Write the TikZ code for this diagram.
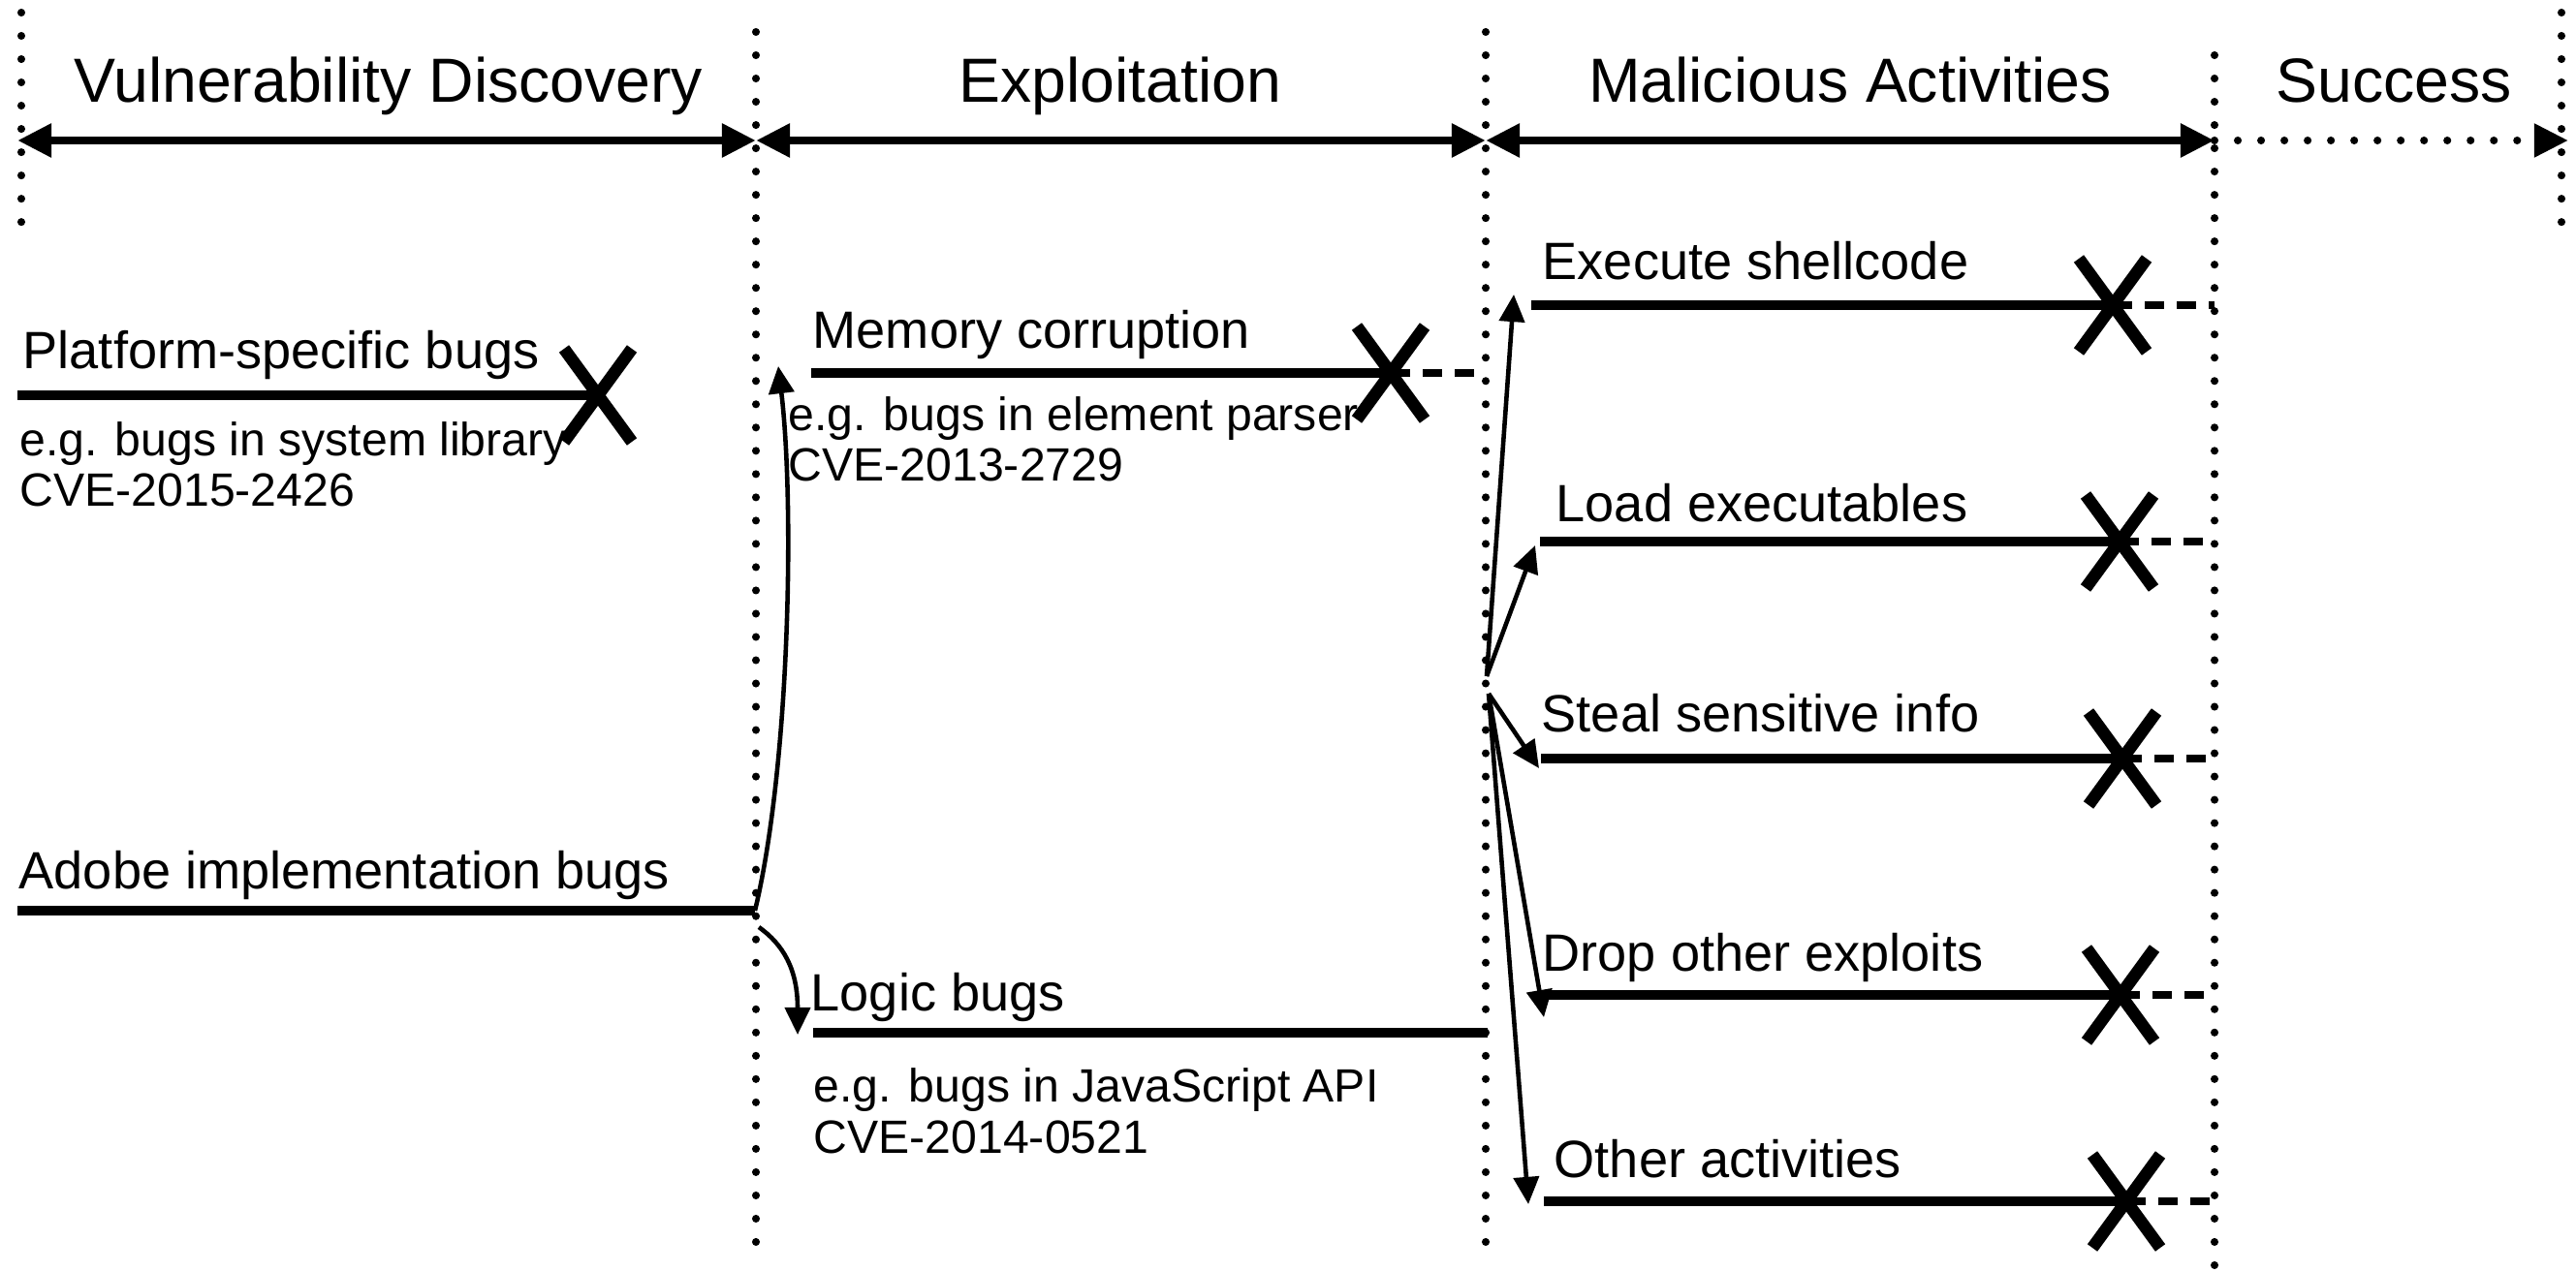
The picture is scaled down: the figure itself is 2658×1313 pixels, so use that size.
\documentclass[tikz,border=0pt]{standalone}
\usepackage{fontspec}
\setmainfont{Liberation Sans}
\usetikzlibrary{arrows.meta}
\begin{document}
\begin{tikzpicture}[x=0.01cm,y=-0.01cm,
 hdr/.style={font=\fontsize{18.3}{22}\selectfont, inner sep=0pt, anchor=base},
 lbl/.style={font=\fontsize{15.4}{18}\selectfont, inner sep=0pt, anchor=base west},
 sub/.style={font=\fontsize{13.7}{16}\selectfont, inner sep=0pt, anchor=base west},
 vdots/.style={line width=2.3pt, line cap=round, dash pattern=on 0pt off 6.83pt},
 phase/.style={line width=2.5pt, {Triangle[length=10pt,width=9.4pt]}-{Triangle[length=10pt,width=9.4pt]}},
 phaseopen/.style={line width=2.3pt, line cap=round, dash pattern=on 0pt off 6.83pt, -{Triangle[length=10pt,width=9.4pt]}},
 bar/.style={line width=2.9pt},
 fail/.style={line width=2pt, dash pattern=on 5.7pt off 3.7pt},
 flow/.style={line width=1.3pt, -{Triangle[length=8pt,width=7.4pt]}},
 xstroke/.style={line width=3.6pt},
 crossx/.pic={\draw[xstroke] (-35,-48) -- (35,48); \draw[xstroke] (-35,48) -- (35,-48);}
]
\useasboundingbox (0,0) rectangle (2658,1313);

% phase separators
\draw[vdots] (22,13) -- (22,253);
\draw[vdots] (780,33) -- (780,1283);
\draw[vdots] (1533,33) -- (1533,1295);
\draw[vdots] (2285,57) -- (2285,1313);
\draw[vdots] (2643,13) -- (2643,253);

% phase arrows
\coordinate (h0) at (18,145);
\coordinate (h1) at (780,145);
\coordinate (h2) at (1533,145);
\coordinate (h3) at (2285,145);
\coordinate (h4) at (2650,145);
\draw[phase] (h0) -- (h1);
\draw[phase] (h1) -- (h2);
\draw[phase] (h2) -- (h3);
\draw[phaseopen] (h3) -- (h4);

\node[hdr] (tVD) at (401,106) {Vulnerability Discovery};
\node[hdr] (tEX) at (1156,106) {Exploitation};
\node[hdr] (tMA) at (1909,106) {Malicious Activities};
\node[hdr] (tSU) at (2470,106) {Success};

% Vulnerability discovery
\node[lbl] (plat) at (23,381) {Platform-specific bugs};
\coordinate (platS) at (18,408);
\coordinate (platX) at (617,408);
\draw[bar] (platS) -- (platX);
\pic at (platX) {crossx};
\node[sub] (platEg) at (20,471) {e.g. bugs in system library};
\node[sub] (platCve) at (20,523) {CVE-2015-2426};

\node[lbl] (adobe) at (19,917) {Adobe implementation bugs};
\coordinate (adS) at (18,940);
\coordinate (adE) at (779,940);
\draw[bar] (adS) -- (adE);

% Exploitation
\node[lbl] (mem) at (838,360) {Memory corruption};
\coordinate (memS) at (837,385);
\coordinate (memX) at (1435,385);
\coordinate (memF) at (1533,385);
\draw[bar] (memS) -- (memX);
\draw[fail] (memX) -- (memF);
\pic at (memX) {crossx};
\node[sub] (memEg) at (813,445) {e.g. bugs in element parser};
\node[sub] (memCve) at (813,497) {CVE-2013-2729};
\coordinate (memTip) at (803,378);
\draw[flow] (adE) .. controls (815,790) and (820,520) .. (memTip);

\coordinate (logS) at (783,957);
\coordinate (logTip) at (823,1068);
\draw[flow] (logS) .. controls (808,975) and (823,1000) .. (logTip);
\node[lbl] (logic) at (836,1043) {Logic bugs};
\coordinate (logL) at (839,1066);
\coordinate (logR) at (1535,1066);
\draw[bar] (logL) -- (logR);
\node[sub] (logEg) at (839,1137) {e.g. bugs in JavaScript API};
\node[sub] (logCve) at (839,1190) {CVE-2014-0521};

% Malicious activities
\coordinate (fanU) at (1534,698);
\coordinate (fanD) at (1536,716);

\node[lbl] (exec) at (1591,289) {Execute shellcode};
\coordinate (exTip) at (1562,304);
\coordinate (exL) at (1580,315);
\coordinate (exX) at (2180,315);
\coordinate (exF) at (2285,315);
\draw[flow] (fanU) -- (exTip);
\draw[bar] (exL) -- (exX);
\draw[fail] (exX) -- (exF);
\pic at (exX) {crossx};

\node[lbl] (load) at (1605,539) {Load executables};
\coordinate (ldTip) at (1584,563);
\coordinate (ldL) at (1589,559);
\coordinate (ldX) at (2187,559);
\coordinate (ldF) at (2285,559);
\draw[flow] (fanU) -- (ldTip);
\draw[bar] (ldL) -- (ldX);
\draw[fail] (ldX) -- (ldF);
\pic at (ldX) {crossx};

\node[lbl] (steal) at (1590,755) {Steal sensitive info};
\coordinate (stTip) at (1588,793);
\coordinate (stL) at (1590,783);
\coordinate (stX) at (2190,783);
\coordinate (stF) at (2285,783);
\draw[flow] (fanD) -- (stTip);
\draw[bar] (stL) -- (stX);
\draw[fail] (stX) -- (stF);
\pic at (stX) {crossx};

\node[lbl] (drop) at (1591,1002) {Drop other exploits};
\coordinate (drTip) at (1593,1050);
\coordinate (drL) at (1591,1027);
\coordinate (drX) at (2188,1027);
\coordinate (drF) at (2285,1027);
\draw[flow] (fanD) -- (drTip);
\draw[bar] (drL) -- (drX);
\draw[fail] (drX) -- (drF);
\pic at (drX) {crossx};

\node[lbl] (other) at (1603,1215) {Other activities};
\coordinate (otTip) at (1577,1243);
\coordinate (otL) at (1593,1240);
\coordinate (otX) at (2194,1240);
\coordinate (otF) at (2285,1240);
\draw[flow] (fanD) -- (otTip);
\draw[bar] (otL) -- (otX);
\draw[fail] (otX) -- (otF);
\pic at (otX) {crossx};
\end{tikzpicture}
\end{document}
